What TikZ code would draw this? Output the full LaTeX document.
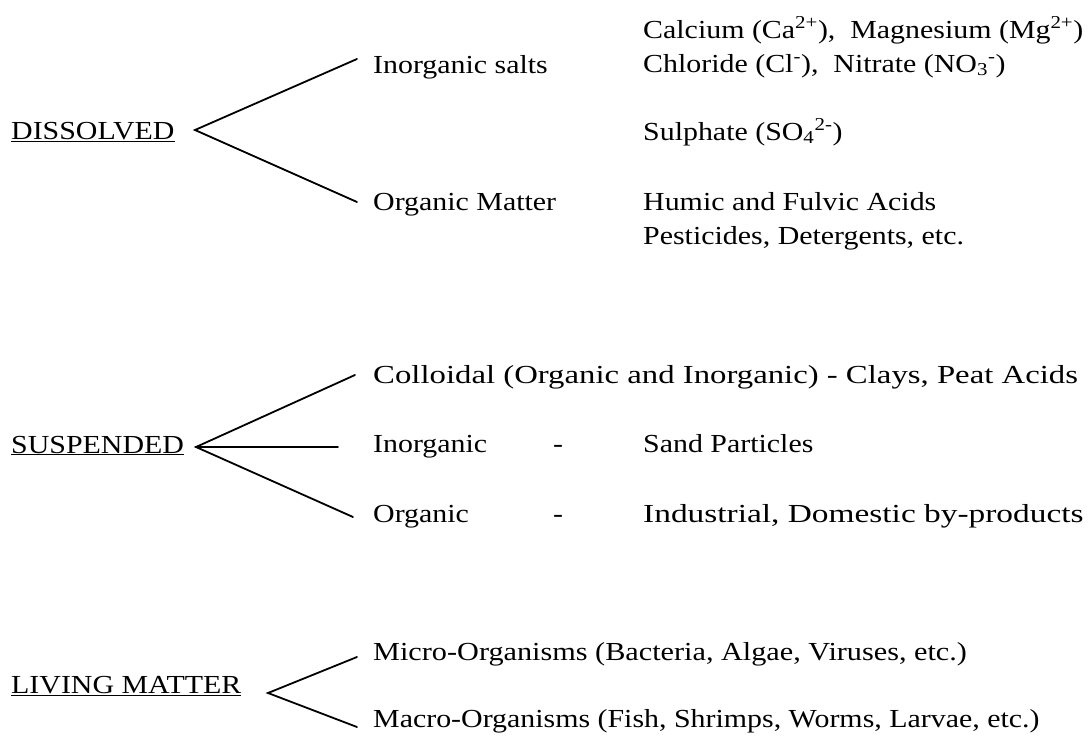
\documentclass[tikz,border=0pt]{standalone}
\usepackage{fontspec}
\usepackage{graphicx}
\setmainfont{Liberation Serif}
\newcommand{\sx}[2][1.15]{\scalebox{#1}[1]{#2}}
\tikzset{
  txt/.style={anchor=base west, inner sep=0pt, font=\fontsize{26}{30}\selectfont},
  branch/.style={line width=1.8pt, line cap=round}
}
\begin{document}
\begin{tikzpicture}[x=1pt,y=-1pt]
\useasboundingbox (0,0) rectangle (1089,736);
% DISSOLVED group
\node[txt] (dis) at (11,139) {\sx{\underline{DISSOLVED}}};
\node[txt] (inorgsalts) at (373,73) {\sx{Inorganic salts}};
\node[txt] (orgmatter) at (373,210) {\sx{Organic Matter}};
\node[txt] (calc) at (643,38) {\sx{Calcium (Ca\textsuperscript{2+}),\ \ Magnesium (Mg\textsuperscript{2+})}};
\node[txt] (chlor) at (643,72) {\sx{Chloride (Cl\textsuperscript{-}),\ \ Nitrate (NO\textsubscript{3}\textsuperscript{-})}};
\node[txt] (sulph) at (643,140) {\sx{Sulphate (SO\textsubscript{4}\textsuperscript{2-})}};
\node[txt] (humic) at (643,210) {\sx{Humic and Fulvic Acids}};
\node[txt] (pest) at (643,244) {\sx{Pesticides, Detergents, etc.}};
\coordinate (dv) at (195,130);
\coordinate (d1) at (357,59);
\coordinate (d2) at (357,202);
\draw[branch] (d1) -- (dv) -- (d2);
% SUSPENDED group
\node[txt] (sus) at (11,453) {\sx{\underline{SUSPENDED}}};
\node[txt] (coll) at (373,383) {\sx[1.26]{Colloidal (Organic and Inorganic) - Clays, Peat Acids}};
\node[txt] (inorg) at (373,452) {\sx{Inorganic}};
\node[txt] (dasha) at (553,452) {\sx{-}};
\node[txt] (sand) at (643,452) {\sx{Sand Particles}};
\node[txt] (org) at (373,522) {\sx{Organic}};
\node[txt] (dashb) at (553,522) {\sx{-}};
\node[txt] (ind) at (643,522) {\sx[1.284]{Industrial, Domestic by-products}};
\coordinate (sv) at (196,447);
\coordinate (s1) at (355,375);
\coordinate (s2) at (338,447);
\coordinate (s3) at (353,517);
\draw[branch] (s1) -- (sv) -- (s3);
\draw[branch] (sv) -- (s2);
% LIVING MATTER group
\node[txt] (liv) at (11,693) {\sx{\underline{LIVING MATTER}}};
\node[txt] (micro) at (373,660) {\sx[1.163]{Micro-Organisms (Bacteria, Algae, Viruses, etc.)}};
\node[txt] (macro) at (373,727) {\sx{Macro-Organisms (Fish, Shrimps, Worms, Larvae, etc.)}};
\coordinate (lv) at (268,693);
\coordinate (l1) at (357,657);
\coordinate (l2) at (357,727);
\draw[branch] (l1) -- (lv) -- (l2);
\end{tikzpicture}
\end{document}
